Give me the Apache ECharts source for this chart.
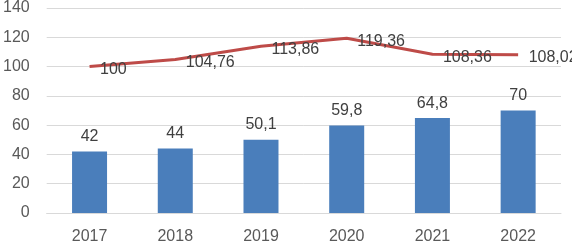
<!DOCTYPE html>
<html><head><meta charset="utf-8">
<script src="https://cdn.jsdelivr.net/npm/echarts@6/dist/echarts.min.js"></script>
<style>html,body{margin:0;padding:0;background:#fff}#c{width:572px;height:245px}</style>
</head><body><div id="c"></div>
<script>
const categories = ['2017','2018','2019','2020','2021','2022'];
const barValues = [42, 44, 50.1, 59.8, 64.8, 70];
const lineValues = [100, 104.76, 113.86, 119.36, 108.36, 108.02];
const yTicks = {min: 0, max: 140, interval: 20};

const fmt = v => String(v).replace('.', ',');
const font = 'Liberation Sans';
const chart = echarts.init(document.getElementById('c'), null, {renderer: 'canvas'});
chart.setOption({
  animation: false,
  grid: {left: 45, right: 11, top: 5, bottom: 30, containLabel: false},
  xAxis: {
    type: 'category', data: categories,
    axisLine: {show: true, lineStyle: {color: '#d9d9d9'}},
    axisTick: {show: false},
    axisLabel: {color: '#595959', fontSize: 16, fontFamily: font, margin: 16}
  },
  yAxis: {
    type: 'value', min: yTicks.min, max: yTicks.max, interval: yTicks.interval,
    axisLine: {show: false}, axisTick: {show: false},
    axisLabel: {color: '#595959', fontSize: 16, fontFamily: font, margin: 17},
    splitLine: {lineStyle: {color: '#d9d9d9', width: 1}}
  },
  series: [
    {
      type: 'bar', data: barValues, barWidth: 35,
      itemStyle: {color: '#4a7ebb'},
      label: {show: true, position: 'top', distance: 7, color: '#404040', fontSize: 16, fontFamily: font, formatter: p => fmt(p.value)}
    },
    {
      type: 'line', data: lineValues, symbol: 'none',
      lineStyle: {color: '#be4b48', width: 3},
      z: 3
    },
    {
      type: 'scatter', data: lineValues, symbolSize: 1,
      itemStyle: {color: 'rgba(0,0,0,0)', opacity: 1},
      label: {show: true, position: 'right', distance: 10, color: '#404040', opacity: 1, fontSize: 16, fontFamily: font, formatter: p => fmt(p.value), offset: [0, 3]},
      z: 4
    }
  ]
});
</script></body></html>
